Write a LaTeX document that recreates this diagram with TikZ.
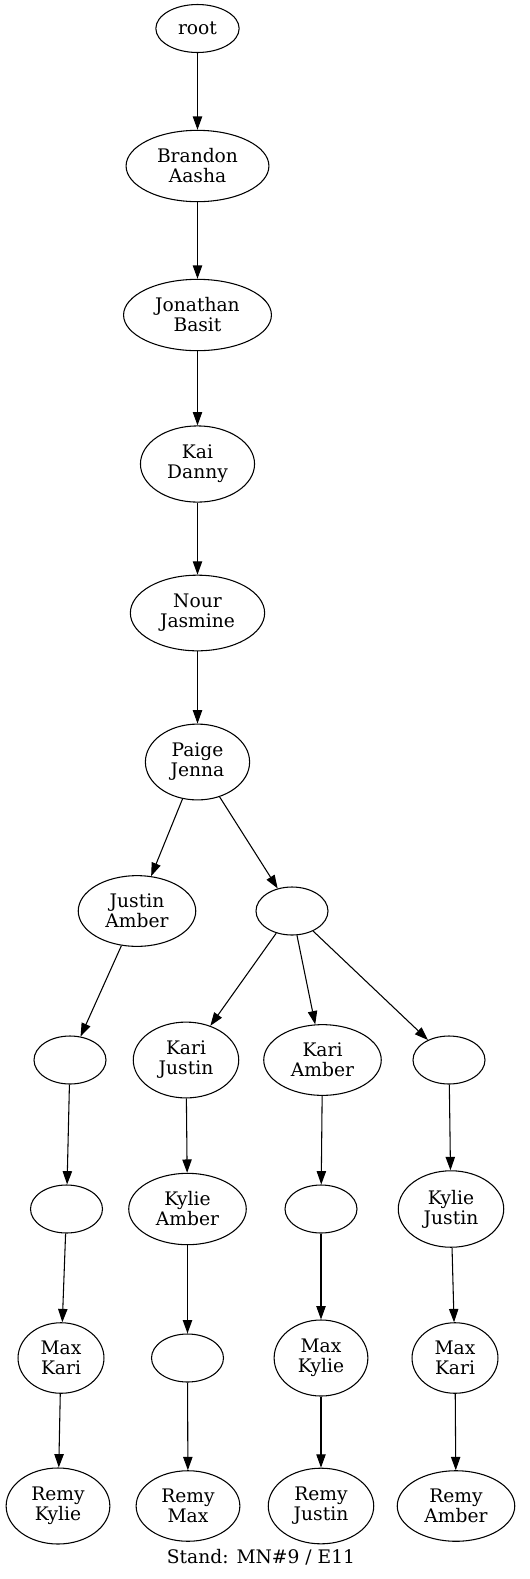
\documentclass[tikz,border=0pt]{standalone}
\usepackage{fontspec}
\setmainfont{DejaVu Serif}
\usepackage{tikz}
\usetikzlibrary{shapes.geometric, arrows.meta}

\begin{document}
\begin{tikzpicture}[x=0.75pt, y=-0.75pt,
    tn/.style={draw, ellipse, line width=0.8pt, align=center,
        font=\fontsize{14pt}{15pt}\selectfont,
        inner xsep=7.5pt, inner ysep=6pt,
        minimum width=54pt, minimum height=36pt},
    every edge/.style={draw, line width=0.8pt, -{Triangle[length=10pt, width=7pt]}}]
    \useasboundingbox (0, 0) rectangle (530, 1579);

    \node[tn] at (197.5, 28.5) (root) {root};
    \node[tn] at (197.5, 166) (ba) {Brandon\\Aasha};
    \node[tn] at (197.5, 315) (jb) {Jonathan\\Basit};
    \node[tn] at (197.5, 464) (kd) {Kai\\Danny};
    \node[tn] at (197.5, 613) (nj) {Nour\\Jasmine};
    \node[tn] at (197.5, 762) (pj) {Paige\\Jenna};

    \node[tn] at (137, 911) (ja) {Justin\\Amber};
    \node[tn] at (292, 911) (e1) {};

    \node[tn] at (70, 1060) (el1) {};
    \node[tn] at (186, 1060) (kj) {Kari\\Justin};
    \node[tn] at (322.5, 1060) (ka) {Kari\\Amber};
    \node[tn] at (449, 1060) (er) {};

    \node[tn] at (66.5, 1209) (el2) {};
    \node[tn] at (187.5, 1209) (kya) {Kylie\\Amber};
    \node[tn] at (321, 1209) (em2) {};
    \node[tn] at (451, 1209) (kyj) {Kylie\\Justin};

    \node[tn] at (61, 1358) (mkl) {Max\\Kari};
    \node[tn] at (187.5, 1358) (em1) {};
    \node[tn] at (321, 1358) (mky) {Max\\Kylie};
    \node[tn] at (455, 1358) (mkr) {Max\\Kari};

    \node[tn] at (58, 1506) (rk) {Remy\\Kylie};
    \node[tn] at (188, 1506) (rm) {Remy\\Max};
    \node[tn] at (321, 1506) (rj) {Remy\\Justin};
    \node[tn] at (456, 1506) (ra) {Remy\\Amber};

    \node[font=\fontsize{14pt}{15pt}\selectfont, inner sep=0pt] at (261, 1557) (stand) {Stand: MN\#9 / E11};

    \draw (root) edge (ba);
    \draw (ba) edge (jb);
    \draw (jb) edge (kd);
    \draw (kd) edge (nj);
    \draw (nj) edge (pj);
    \draw (pj) edge (ja);
    \draw (pj) edge (e1);

    \draw (ja) edge (el1);
    \draw (el1) edge (el2);
    \draw (el2) edge (mkl);
    \draw (mkl) edge (rk);

    \draw (e1) edge (kj);
    \draw (e1) edge (ka);
    \draw (e1) edge (er);

    \draw (kj) edge (kya);
    \draw (kya) edge (em1);
    \draw (em1) edge (rm);

    \draw (ka) edge (em2);
    \draw (em2) edge (mky);
    \draw (mky) edge (rj);

    \draw (er) edge (kyj);
    \draw (kyj) edge (mkr);
    \draw (mkr) edge (ra);
\end{tikzpicture}
\end{document}
